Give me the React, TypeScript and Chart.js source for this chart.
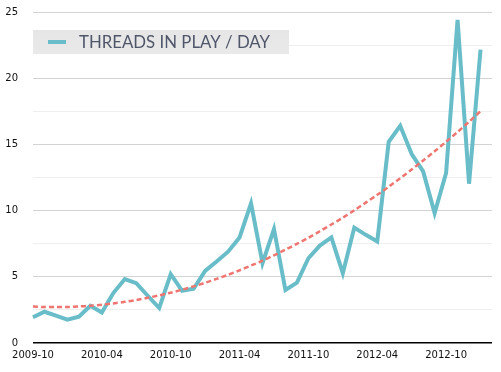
import React, { useEffect, useRef } from "react";
import { Chart, registerables } from "chart.js";

Chart.register(...registerables);

const months: string[] = [
  "2009-10", "2009-11", "2009-12", "2010-01", "2010-02", "2010-03", "2010-04", "2010-05", "2010-06", "2010-07",
  "2010-08", "2010-09", "2010-10", "2010-11", "2010-12", "2011-01", "2011-02", "2011-03", "2011-04", "2011-05",
  "2011-06", "2011-07", "2011-08", "2011-09", "2011-10", "2011-11", "2011-12", "2012-01", "2012-02", "2012-03",
  "2012-04", "2012-05", "2012-06", "2012-07", "2012-08", "2012-09", "2012-10", "2012-11", "2012-12", "2013-01",
  "2013-02",
];

const threadsPerDay: (number | null)[] = [
  1.94, 2.36, 2.06, 1.76, 1.98, 2.81, 2.31, 3.77, 4.83, 4.52,
  3.57, 2.64, 5.2, 3.94, 4.1, 5.45, 6.15, 6.9, 7.97, 10.55,
  6.03, 8.6, 4.0, 4.56, 6.4, 7.36, 7.97, 5.27, 8.72, 8.17,
  7.66, 15.2, 16.4, 14.27, 12.96, 9.81, 12.84, 24.4, 12.03, 22.16,
  null,
];

const trend: (number | null)[] = [
  2.75, 2.72, 2.71, 2.72, 2.76, 2.81, 2.89, 2.99, 3.11, 3.25,
  3.41, 3.6, 3.8, 4.03, 4.28, 4.55, 4.84, 5.15, 5.49, 5.85,
  6.22, 6.62, 7.05, 7.49, 7.95, 8.44, 8.95, 9.47, 10.02, 10.6,
  11.19, 11.8, 12.44, 13.1, 13.78, 14.48, 15.2, 15.94, 16.71, 17.5,
  null,
];

const legendLabel = "THREADS IN PLAY / DAY";
const lineColor = "#68bdc9";
const trendColor = "#ef7570";

const legendPlugin = {
  id: "boxLegend",
  afterDraw(chart: any) {
    const ctx = chart.ctx as CanvasRenderingContext2D;
    const x0 = 33, y0 = 30, w = 256, h = 24;
    ctx.save();
    const g = ctx.createLinearGradient(0, y0, 0, y0 + h);
    g.addColorStop(0, "#e6e6e6");
    g.addColorStop(1, "#e9e9e9");
    ctx.fillStyle = g;
    ctx.fillRect(x0, y0, w, h);
    ctx.strokeStyle = lineColor;
    ctx.lineWidth = 4;
    ctx.beginPath();
    ctx.moveTo(48, 42);
    ctx.lineTo(66, 42);
    ctx.stroke();
    ctx.font = "400 17px Lato";
    ctx.fillStyle = "#50566a";
    ctx.textBaseline = "middle";
    const tw = ctx.measureText(legendLabel).width;
    const target = 191;
    ctx.translate(79, 42.5);
    ctx.scale(target / tw, 1);
    ctx.fillText(legendLabel, 0, 0);
    ctx.restore();
  },
};

export default function App() {
  const ref = useRef<HTMLCanvasElement | null>(null);
  useEffect(() => {
    if (!ref.current) return;
    const chart = new Chart(ref.current, {
      type: "line",
      data: {
        labels: months,
        datasets: [
          {
            label: legendLabel,
            data: threadsPerDay,
            borderColor: lineColor,
            borderWidth: 4,
            pointRadius: 0,
            tension: 0,
            borderJoinStyle: "miter",
            fill: false,
            order: 2,
          },
          {
            label: "trend",
            data: trend,
            borderColor: trendColor,
            borderWidth: 2.5,
            borderDash: [5, 3],
            pointRadius: 0,
            tension: 0.3,
            fill: false,
            order: 1,
          },
        ],
      },
      options: {
        responsive: false,
        animation: false,
        layout: { padding: { top: 12, right: 9, left: 0, bottom: 0 } },
        plugins: { legend: { display: false }, tooltip: { enabled: false } },
        scales: {
          x: {
            type: "category",
            offset: false,
            grid: { display: false, drawTicks: false },
            border: { display: false },
            ticks: {
              autoSkip: false,
              maxRotation: 0,
              padding: 6,
              color: "#111",
              font: { family: "DejaVu Sans", size: 10 },
              callback: (_v: any, i: number) => (i % 6 === 0 ? months[i] : ""),
            },
            afterFit: (s: any) => {
              s.height = 29;
              s.paddingLeft = 0;
              s.paddingRight = 0;
            },
          },
          y: {
            min: 0,
            max: 25,
            border: { display: false },
            grid: {
              drawTicks: false,
              lineWidth: (c: any) => (c.tick && c.tick.value === 0 ? 1.5 : 1),
              color: (c: any) => {
                const v = c.tick ? c.tick.value : 1;
                if (v === 0) return "#000";
                return v % 5 === 0 ? "#d3d3d3" : "#efefef";
              },
            },
            ticks: {
              stepSize: 2.5,
              padding: 15,
              color: "#111",
              font: { family: "DejaVu Sans", size: 10 },
              callback: (v: any) => (Number(v) % 5 === 0 ? String(v) : ""),
            },
            afterFit: (s: any) => {
              s.width = 33;
              s.paddingTop = 0;
              s.paddingBottom = 0;
            },
          },
        },
      },
      plugins: [legendPlugin],
    });
    return () => chart.destroy();
  }, []);
  return (
    <div style={{ position: "fixed", left: 0, top: 0, width: 501, height: 372, background: "#fff" }}>
      <canvas ref={ref} width={501} height={372} style={{ width: 501, height: 372 }} />
    </div>
  );
}
